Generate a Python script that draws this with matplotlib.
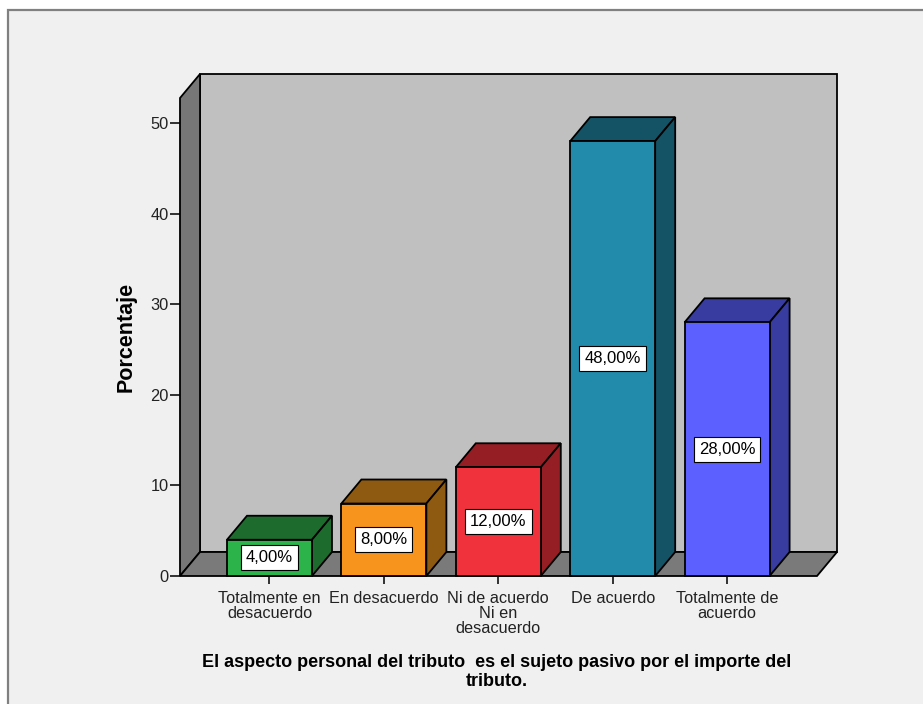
import matplotlib
matplotlib.use("Agg")
import matplotlib.pyplot as plt
from matplotlib.patches import Rectangle, Polygon

plt.rcParams['font.family'] = ['Liberation Sans', 'DejaVu Sans']

categories = ["Totalmente en\ndesacuerdo", "En desacuerdo", "Ni de acuerdo\nNi en\ndesacuerdo",
              "De acuerdo", "Totalmente de\nacuerdo"]
percent = [4.0, 8.0, 12.0, 48.0, 28.0]
front_colors = ["#2CB34A", "#F7941E", "#EF323B", "#228AAB", "#5B60FF"]
dark_colors = ["#1E6B2E", "#8E5A12", "#951E24", "#145266", "#383B9F"]
yticks = [0, 10, 20, 30, 40, 50]
x_title = "El aspecto personal del tributo  es el sujeto pasivo por el importe del\ntributo."
y_title = "Porcentaje"

fig = plt.figure(figsize=(9.23, 7.04), dpi=100, facecolor="white")

# panel background with grey frame
fig.patches.append(Rectangle((8 / 923, -0.1), 1.2, 0.1 + (704 - 10) / 704,
                             transform=fig.transFigure, facecolor="#F0F0F0",
                             edgecolor="#808080", linewidth=1.6, zorder=-5))

ax = fig.add_axes([180 / 923, (704 - 576) / 704, 637 / 923, 478 / 704])
ax.set_facecolor("none")
x0, x1 = -0.782, 4.786
ymax = 52.76
ax.set_xlim(x0, x1)
ax.set_ylim(0, ymax)
for s in ax.spines.values():
    s.set_visible(False)

# depth offset of the 3D look, in data units
dx, dy = 0.175, 2.65
edge = dict(edgecolor="black", linewidth=1.3, clip_on=False, joinstyle="miter")

ax.add_patch(Rectangle((x0 + dx, dy), x1 - x0, ymax, facecolor="#C0C0C0", zorder=1, **edge))
ax.add_patch(Polygon([(x0, 0), (x0 + dx, dy), (x0 + dx, ymax + dy), (x0, ymax)],
                     facecolor="#777777", zorder=2, **edge))
ax.add_patch(Polygon([(x0, 0), (x1, 0), (x1 + dx, dy), (x0 + dx, dy)],
                     facecolor="#7A7A7A", zorder=2, **edge))

w = 0.743
for i, (v, fc, dc) in enumerate(zip(percent, front_colors, dark_colors)):
    l, r = i - w / 2, i + w / 2
    ax.add_patch(Polygon([(l, v), (r, v), (r + dx, v + dy), (l + dx, v + dy)],
                         facecolor=dc, zorder=3, **edge))
    ax.add_patch(Polygon([(r, 0), (r + dx, dy), (r + dx, v + dy), (r, v)],
                         facecolor=dc, zorder=3, **edge))
    ax.add_patch(Rectangle((l, 0), w, v, facecolor=fc, zorder=4, **edge))
    ax.text(i, v / 2, f"{v:.2f}%".replace(".", ","), ha="center", va="center",
            fontsize=12, zorder=5,
            bbox=dict(boxstyle="square,pad=0.3", facecolor="white",
                      edgecolor="black", linewidth=0.8))

ax.set_yticks(yticks)
ax.set_yticklabels([str(t) for t in yticks])
ax.set_xticks(range(len(categories)))
ax.set_xticklabels(categories, linespacing=1.0)
ax.tick_params(axis="y", length=7, width=1.3, pad=1, labelsize=11.8, colors="#222222")
ax.tick_params(axis="x", length=6, width=1.3, pad=5, labelsize=11.7, colors="#222222")

ax.set_ylabel(y_title, fontsize=15.5, fontweight="bold", labelpad=10)
fig.text(497 / 923, (704 - 672) / 704, x_title, ha="center", va="center",
         fontsize=13, fontweight="bold", linespacing=1.15, multialignment="center")

fig.savefig("out.png", dpi=100)
